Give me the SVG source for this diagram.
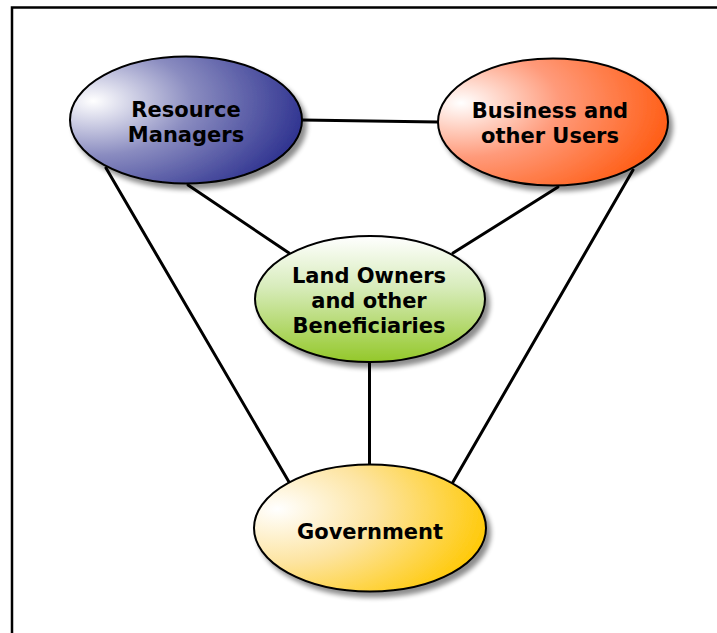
<svg xmlns="http://www.w3.org/2000/svg" width="717" height="633" viewBox="0 0 717 633">
<defs>
<style>
.node{stroke:#000;stroke-width:2;}
.lbl{font-family:"DejaVu Sans",Verdana,sans-serif;font-weight:bold;font-size:21px;fill:#000;text-anchor:middle;}
.conn line{stroke:#000;stroke-width:3;stroke-linecap:round;}
</style>
<filter id="sh" x="-20%" y="-20%" width="140%" height="150%">
<feGaussianBlur in="SourceAlpha" stdDeviation="2.5"/>
<feOffset dx="4" dy="5" result="b"/>
<feComponentTransfer><feFuncA type="linear" slope="0.45"/></feComponentTransfer>
<feMerge><feMergeNode/><feMergeNode in="SourceGraphic"/></feMerge>
</filter>
<radialGradient id="gBlue" cx="0.1" cy="0.35" r="0.95" fx="0.1" fy="0.35">
<stop offset="0" stop-color="#ffffff"/>
<stop offset="0.45" stop-color="#8a8cc0"/>
<stop offset="1" stop-color="#2b2f8e"/>
</radialGradient>
<radialGradient id="gOrange" cx="0.1" cy="0.35" r="0.95" fx="0.1" fy="0.35">
<stop offset="0" stop-color="#ffffff"/>
<stop offset="0.45" stop-color="#ff9a7a"/>
<stop offset="1" stop-color="#ff5a10"/>
</radialGradient>
<linearGradient id="gGreen" x1="0" y1="0" x2="0" y2="1">
<stop offset="0" stop-color="#ffffff"/>
<stop offset="0.4" stop-color="#d8ecbc"/>
<stop offset="1" stop-color="#94c82a"/>
</linearGradient>
<radialGradient id="gGold" cx="0.1" cy="0.35" r="0.95" fx="0.1" fy="0.35">
<stop offset="0" stop-color="#ffffff"/>
<stop offset="0.45" stop-color="#fde4a0"/>
<stop offset="1" stop-color="#ffc800"/>
</radialGradient>
</defs>
<rect width="717" height="633" fill="#fff"/>
<path d="M12,633 V7.5 H717" fill="none" stroke="#000" stroke-width="2.5"/>
<g id="connectors" class="conn">
<line x1="302" y1="120" x2="438" y2="122"/>
<line x1="188" y1="185" x2="289" y2="253"/>
<line x1="558" y1="187" x2="453" y2="253"/>
<line x1="106" y1="168" x2="289" y2="482"/>
<line x1="633" y1="170" x2="453" y2="482"/>
<line x1="369.5" y1="363" x2="369.5" y2="464"/>
</g>
<g id="resource-managers">
<ellipse class="node" cx="186" cy="120" rx="116" ry="63.5" fill="url(#gBlue)" filter="url(#sh)"/>
<text class="lbl" x="186" y="117">Resource</text>
<text class="lbl" x="186" y="142">Managers</text>
</g>
<g id="business-users">
<ellipse class="node" cx="553" cy="122" rx="115" ry="63.5" fill="url(#gOrange)" filter="url(#sh)"/>
<text class="lbl" x="550" y="118">Business and</text>
<text class="lbl" x="550" y="143">other Users</text>
</g>
<g id="land-owners">
<ellipse class="node" cx="370" cy="299" rx="115" ry="63" fill="url(#gGreen)" filter="url(#sh)"/>
<text class="lbl" x="369" y="283">Land Owners</text>
<text class="lbl" x="369" y="308">and other</text>
<text class="lbl" x="369" y="333">Beneficiaries</text>
</g>
<g id="government">
<ellipse class="node" cx="370" cy="528" rx="116" ry="63.5" fill="url(#gGold)" filter="url(#sh)"/>
<text class="lbl" x="370" y="539">Government</text>
</g>
</svg>
